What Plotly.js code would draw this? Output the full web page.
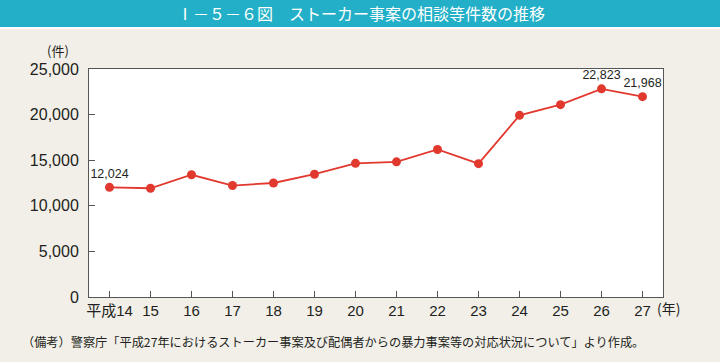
<!DOCTYPE html>
<html>
<head>
<meta charset="utf-8">
<script src="https://cdn.plot.ly/plotly-3.0.1.min.js"></script>
<style>html,body{margin:0;padding:0;background:#f2efe9;}#chart{width:720px;height:362px;}</style>
</head>
<body>
<div id="chart"></div>
<script>
const years = ["平成14","15","16","17","18","19","20","21","22","23","24","25","26","27"];
const cases = [12024, 11923, 13403, 12220, 12501, 13463, 14657, 14823, 16176, 14618, 19920, 21089, 22823, 21968];
const labeledIdx = [0, 12, 13];
const yTicks = [0, 5000, 10000, 15000, 20000, 25000];
const yTickText = ["0", "5,000", "10,000", "15,000", "20,000", "25,000"];
const titleText = "Ⅰ－５－６図　ストーカー事案の相談等件数の推移";
const noteText = "（備考）警察庁「平成27年におけるストーカー事案及び配偶者からの暴力事案等の対応状況について」より作成。";

const xIdx = years.map((_, i) => i);
const fmt = v => v.toLocaleString("en-US");
const textArr = cases.map((v, i) => labeledIdx.includes(i) ? fmt(v) : "");

const FONT = "'Liberation Sans', Arial, 'Noto Sans CJK JP', sans-serif";
const JFONT = "'Noto Sans CJK JP', sans-serif";
const H = 362, T = 69, B = 65, PH = H - T - B;
const py = p => (H - B - p) / PH; // pixel y -> paper y

const trace = {
  x: xIdx, y: cases, type: "scatter", mode: "lines+markers+text",
  line: {color: "#e2392f", width: 1.8},
  marker: {color: "#e2392f", size: 9},
  text: textArr, textposition: "top center",
  textfont: {family: FONT, size: 12.5, color: "#231f20"},
  cliponaxis: false, hoverinfo: "none"
};

const layout = {
  width: 720, height: 362,
  margin: {l: 89, r: 57, t: T, b: B, pad: 0},
  paper_bgcolor: "#f2efe9", plot_bgcolor: "#ffffff",
  showlegend: false,
  xaxis: {
    range: [-0.5, 13.5], tickmode: "array", tickvals: xIdx, ticktext: years,
    ticks: "inside", ticklen: 6, tickcolor: "#555", tickwidth: 1,
    showline: true, mirror: true, linecolor: "#555", linewidth: 1,
    showgrid: false, zeroline: false, fixedrange: true,
    tickfont: {family: FONT, size: 15, color: "#231f20"}
  },
  yaxis: {
    range: [0, 25000], tickmode: "array", tickvals: yTicks, ticktext: yTickText,
    ticks: "inside", ticklen: 6, tickcolor: "#555", tickwidth: 1,
    showline: true, mirror: true, linecolor: "#555", linewidth: 1,
    showgrid: false, zeroline: false, fixedrange: true, ticklabelstandoff: 6,
    tickfont: {family: FONT, size: 16, color: "#231f20"}
  },
  shapes: [
    {type: "rect", xref: "paper", yref: "paper", x0: -89/574, x1: 1 + 57/574, y0: py(27), y1: py(-2),
     fillcolor: "#22afc7", line: {width: 0}, layer: "above"},
    {type: "rect", xref: "paper", yref: "paper", x0: -89/574, x1: 1 + 57/574, y0: py(29), y1: py(27),
     fillcolor: "#ffffff", line: {width: 0}, layer: "above"}
  ],
  annotations: [
    {text: titleText, xref: "paper", yref: "paper", x: (361 - 89)/574, y: py(13.5), xanchor: "center", yanchor: "middle",
     showarrow: false, font: {family: JFONT, size: 16, color: "#ffffff"}},
    {text: "(件)", xref: "paper", yref: "paper", x: (58 - 89)/574, y: py(51), xanchor: "center", yanchor: "middle",
     showarrow: false, font: {family: JFONT, size: 13, color: "#231f20"}},
    {text: "(年)", xref: "paper", yref: "paper", x: (655 - 89)/574, y: py(308), xanchor: "left", yanchor: "middle",
     showarrow: false, font: {family: JFONT, size: 14, color: "#231f20"}},
    {text: noteText, xref: "paper", yref: "paper", x: (20 - 89)/574, y: py(342), xanchor: "left", yanchor: "middle",
     showarrow: false, font: {family: JFONT, size: 12.2, color: "#231f20"}}
  ]
};

Plotly.newPlot("chart", [trace], layout, {staticPlot: true, displayModeBar: false});
</script>
</body>
</html>
